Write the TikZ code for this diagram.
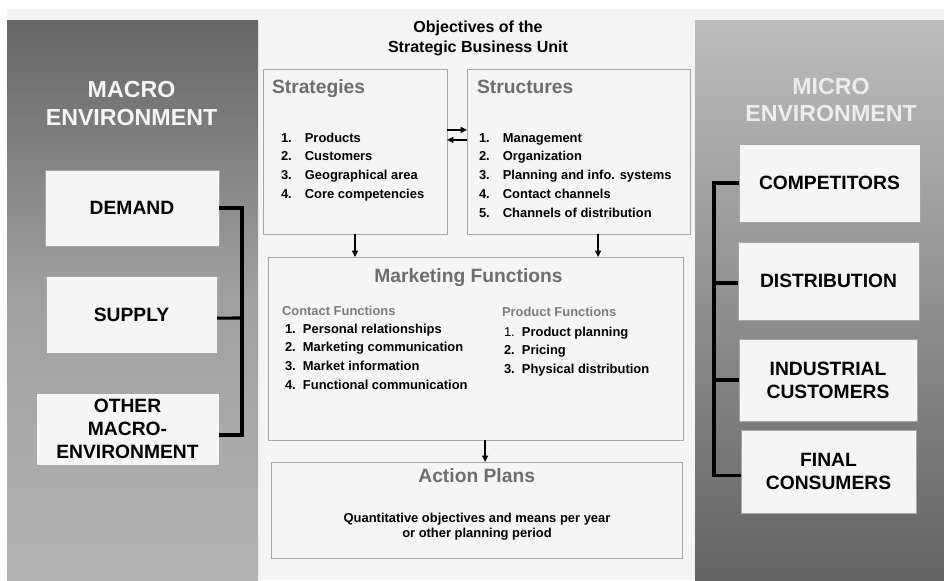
\documentclass[tikz,border=0pt]{standalone}
\usepackage{fontspec}
\setmainfont{Liberation Sans}
\usepackage{tikz}
\usetikzlibrary{arrows.meta}
\definecolor{pagebg}{HTML}{F4F4F4}
\definecolor{boxfill}{HTML}{F5F5F5}
\definecolor{boxline}{HTML}{A6A6A6}
\definecolor{titlegray}{HTML}{6E6E6E}
\definecolor{subgray}{HTML}{7C7C7C}
\def\fsz#1#2{\fontsize{#1}{#2}\selectfont\bfseries}
\def\numlist#1#2{\begin{tabular}[t]{@{}l@{\hspace{#1}}l@{}}#2\end{tabular}}

\begin{document}
\begin{tikzpicture}[x=0.025cm, y=-0.025cm,
		box/.style={draw=boxline, fill=boxfill, line width=0.6pt, inner sep=0pt, outer sep=0pt},
		envbox/.style={box, align=center, font=\fsz{13.7}{16.3}},
		txt/.style={inner sep=0pt, outer sep=0pt},
		bus/.style={line width=2.2pt},
		arr/.style={line width=1pt, -{Triangle[length=4.5pt,width=4.2pt]}}]
		%%%%% START %%%%%
		\useasboundingbox (0,0) rectangle (944,580);
		\fill[white] (0,0) rectangle (944,580);
		\fill[pagebg] (7,9) rectangle (944,580);
		
		% side panels
		\shade[top color=black!60, bottom color=black!30, middle color=black!37] (7,20) rectangle (258,580);
		\shade[top color=black!26, bottom color=black!61] (695,20) rectangle (944,580);
		
		\node[txt, anchor=base, font=\fsz{16.5}{19.9}, text=black!4] (macro) at (131.5,97.7) {\begin{tabular}[t]{@{}c@{}}MACRO\\ENVIRONMENT\end{tabular}};
		\node[txt, anchor=base, font=\fsz{16.5}{19.9}, text=black!7] (micro) at (831,94) {\begin{tabular}[t]{@{}c@{}}MICRO\\ENVIRONMENT\end{tabular}};
		
		\node[envbox, minimum width=4.35cm, minimum height=1.9cm] (demand) at (132,208) {DEMAND};
		\node[envbox, minimum width=4.275cm, minimum height=1.925cm] (supply) at (131.5,314.5) {SUPPLY};
		\node[envbox, minimum width=4.575cm, minimum height=1.8cm] (other) at (127.5,429) {OTHER\\MACRO-\\ENVIRONMENT};
		
		\node[envbox, minimum width=4.525cm, minimum height=1.95cm] (comp) at (829.5,183) {COMPETITORS};
		\node[envbox, minimum width=4.525cm, minimum height=1.95cm] (distr) at (828.5,281) {DISTRIBUTION};
		\node[envbox, minimum width=4.45cm, minimum height=2.05cm] (indcust) at (828,380) {INDUSTRIAL\\CUSTOMERS};
		\node[envbox, minimum width=4.375cm, minimum height=2.075cm] (finalc) at (828.5,471.5) {FINAL\\CONSUMERS};
		
		\coordinate (lbus) at (242,318);
		\draw[bus] (demand.east) -| (lbus) |- ([yshift=-0.15cm]other.east);
		\draw[bus] (lbus) -- ([yshift=-0.09cm]supply.east);
		\coordinate (rbus) at (714,283);
		\draw[bus] (comp.west) -| (rbus) |- ([yshift=-0.11cm]finalc.west);
		\draw[bus] (rbus) -- (rbus -| distr.west);
		\draw[bus] (indcust.west) -- (indcust.west -| rbus);
		
		% strategic business unit
		\node[txt, anchor=base, font=\fsz{11.4}{14.9}] (objtitle) at (478,32) {\begin{tabular}[t]{@{}c@{}}Objectives of the\\Strategic Business Unit\end{tabular}};
		
		\node[box, minimum width=4.6cm, minimum height=4.125cm] (strat) at (355,151.5) {};
		\node[box, minimum width=5.575cm, minimum height=4.125cm] (struct) at (578.5,151.5) {};
		\node[box, minimum width=10.375cm, minimum height=4.575cm] (mkt) at (475.5,348.5) {};
		\node[box, minimum width=10.275cm, minimum height=2.4cm] (action) at (476.5,510) {};
		
		\node[txt, anchor=base west, font=\fsz{13.7}{16}, text=titlegray] (strattitle) at (272,93) {Strategies};
		\node[txt, anchor=base west, font=\fsz{9.2}{13.5}] (stratlist) at (281,142) {\numlist{9.3pt}{1.&Products\\2.&Customers\\3.&Geographical area\\4.&Core competencies}};
		
		\node[txt, anchor=base west, font=\fsz{13.7}{16}, text=titlegray] (structtitle) at (477,93) {Structures};
		\node[txt, anchor=base west, font=\fsz{9.2}{13.5}] (structlist) at (479,142) {\numlist{9.3pt}{1.&Management\\2.&Organization\\3.&Planning and info. systems\\4.&Contact channels\\5.&Channels of distribution}};
		
		\node[txt, anchor=base, font=\fsz{13.7}{16}, text=titlegray] (mkttitle) at (468.5,282) {Marketing Functions};
		\node[txt, anchor=base west, font=\fsz{9.2}{13.5}, text=subgray] (contacttitle) at (282,315) {Contact Functions};
		\node[txt, anchor=base west, font=\fsz{9.2}{13.5}] (contactlist) at (285,333) {\numlist{5.1pt}{1.&Personal relationships\\2.&Marketing communication\\3.&Market information\\4.&Functional communication}};
		\node[txt, anchor=base west, font=\fsz{9.2}{13.5}, text=subgray] (producttitle) at (502,316.7) {Product Functions};
		\node[txt, anchor=base west, font=\fsz{9.2}{13.5}] (productlist) at (504,336) {\numlist{5.1pt}{{\mdseries 1.}&Product planning\\2.&Pricing\\3.&Physical distribution}};
		
		\node[txt, anchor=base, font=\fsz{13.7}{16}, text=titlegray] (actiontitle) at (476.7,482) {Action Plans};
		\node[txt, anchor=base, font=\fsz{9.2}{10.6}] (actiontext) at (477,522.7) {\begin{tabular}[t]{@{}c@{}}Quantitative objectives and means per year\\or other planning period\end{tabular}};
		
		% arrows
		\draw[arr] ([yshift=0.54cm]strat.east) -- ([yshift=0.54cm]struct.west);
		\draw[arr] ([yshift=0.29cm]struct.west) -- ([yshift=0.29cm]strat.east);
		\draw[arr] (strat.south) -- (strat.south |- mkt.north);
		\coordinate (structout) at ([xshift=0.49cm]struct.south);
		\draw[arr] (structout) -- (structout |- mkt.north);
		\coordinate (mktout) at ([xshift=0.24cm]mkt.south);
		\draw[arr] (mktout) -- (mktout |- action.north);
		%%%%% END %%%%%
	\end{tikzpicture}
\end{document}
